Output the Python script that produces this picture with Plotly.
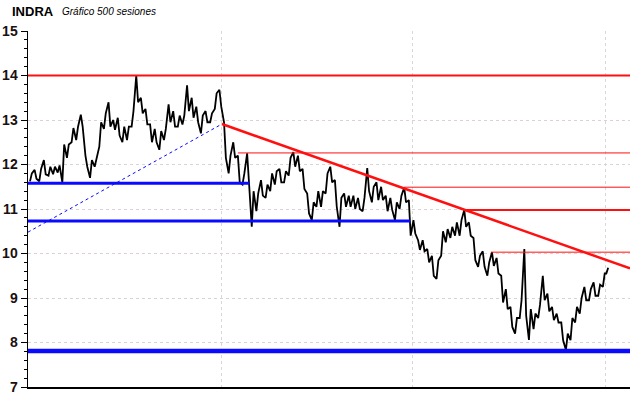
import plotly.graph_objects as go

# ---------------- data ----------------
sessions = list(range(0, 500, 4)) + [499]

high = [11.80, 11.88, 11.90, 12.10, 11.95, 11.95, 11.98, 12.45, 12.45, 12.82,
        12.85, 13.12, 12.20, 12.10, 12.15, 12.95, 13.15, 13.40, 13.00, 13.05,
        12.85, 12.85, 13.20, 14.00, 13.50, 13.25, 12.90, 12.80, 12.75, 12.80,
        13.35, 13.20, 13.10, 13.10, 13.78, 13.50, 13.30, 13.10, 13.20, 13.15,
        13.60, 13.68, 12.95, 12.20, 12.50, 12.20, 11.80, 12.25, 11.40, 11.35,
        11.65, 11.55, 11.80, 11.85, 11.90, 11.85, 12.15, 12.28, 12.20, 11.90,
        11.35, 11.15, 11.40, 11.40, 11.80, 11.95, 11.65, 11.25, 11.35, 11.30,
        11.30, 11.25, 11.25, 11.92, 11.50, 11.60, 11.50, 11.30, 11.25, 11.15,
        11.30, 11.48, 11.20, 10.75, 10.30, 10.30, 10.10, 9.95, 9.85, 10.50,
        10.55, 10.60, 10.70, 10.75, 10.98, 10.70, 10.35, 9.95, 10.05, 9.80,
        10.03, 9.90, 9.50, 9.20, 8.80, 8.55, 8.95, 10.10, 8.75, 8.65,
        8.85, 9.50, 9.10, 8.80, 8.65, 8.45, 8.20, 8.55, 8.80, 9.00,
        9.25, 9.20, 9.35, 9.30, 9.55, 9.68]

low = [11.62, 11.68, 11.62, 11.78, 11.75, 11.78, 11.82, 11.60, 12.15, 12.50,
       12.55, 12.85, 11.95, 11.70, 11.95, 12.40, 12.80, 12.85, 12.78, 12.65,
       12.50, 12.55, 12.85, 13.40, 13.15, 12.90, 12.50, 12.50, 12.33, 12.55,
       12.95, 12.85, 12.85, 12.90, 13.20, 13.05, 12.95, 12.70, 12.95, 12.95,
       13.25, 13.30, 12.15, 11.80, 12.15, 11.60, 11.55, 11.60, 10.60, 10.95,
       11.30, 11.25, 11.40, 11.55, 11.60, 11.60, 11.75, 11.95, 11.85, 11.45,
       10.90, 10.75, 11.05, 11.05, 11.35, 11.60, 11.05, 10.60, 11.05, 11.05,
       11.00, 11.00, 10.95, 11.40, 11.15, 11.20, 11.20, 10.95, 10.98, 10.75,
       11.00, 11.15, 10.40, 10.45, 10.08, 10.05, 9.80, 9.50, 9.43, 9.95,
       10.25, 10.35, 10.40, 10.40, 10.60, 10.40, 9.85, 9.70, 9.70, 9.50,
       9.72, 9.55, 8.90, 8.75, 8.35, 8.20, 8.55, 8.60, 8.06, 8.30,
       8.55, 8.95, 8.70, 8.50, 8.45, 8.05, 7.83, 8.05, 8.45, 8.65,
       8.95, 8.95, 9.05, 9.05, 9.25, 9.55]

# y-axis tick labels
y_ticks = [7, 8, 9, 10, 11, 12, 13, 14, 15]
# session positions of vertical grid lines
x_grid = [165.5, 331.5, 498.5]

# horizontal levels: (value, start session or None for full width, width)
red_levels = [(14.00, None, 2), (12.26, 180, 1), (11.49, 324, 1), (10.98, 377, 2), (10.03, 399, 1)]
blue_levels = [(11.58, None, 190, 3), (10.73, None, 329, 3), (7.81, None, None, 4.5)]
# trend lines: (session0, value0, session1, value1)
blue_trend = (-1.73, 10.48, 166.2, 12.91)
red_trend = (166.2, 12.91, 519.5, 9.665)

X_RANGE = [-1.73, 519.5]

# ---------------- build price path ----------------
px, py = [], []
for k, s in enumerate(sessions):
    mid_here = (high[k] + low[k]) / 2
    if k + 1 < len(sessions):
        mid_next = (high[k + 1] + low[k + 1]) / 2
    else:
        mid_next = mid_here + 0.1
    if mid_next >= mid_here:
        px += [s, s + 1.6]
        py += [low[k], high[k]]
    else:
        px += [s, s + 1.6]
        py += [high[k], low[k]]

fig = go.Figure()
fig.add_trace(go.Scatter(x=px, y=py, mode="lines",
                         line=dict(color="black", width=1.8),
                         hoverinfo="skip", showlegend=False))

shapes = []
RED = "#ff1010"
BLUE = "#0a0aff"
for v, s0, w in red_levels:
    if s0 is None:
        shapes.append(dict(type="line", xref="paper", yref="y", x0=0, x1=1, y0=v, y1=v,
                           line=dict(color=RED, width=w)))
    else:
        shapes.append(dict(type="line", xref="x", yref="y", x0=s0, x1=X_RANGE[1], y0=v, y1=v,
                           line=dict(color=RED, width=w)))
for v, s0, s1, w in blue_levels:
    shapes.append(dict(type="line", xref="x", yref="y",
                       x0=X_RANGE[0] if s0 is None else s0,
                       x1=X_RANGE[1] if s1 is None else s1,
                       y0=v, y1=v, line=dict(color=BLUE, width=w)))
shapes.append(dict(type="line", xref="x", yref="y", x0=blue_trend[0], y0=blue_trend[1],
                   x1=blue_trend[2], y1=blue_trend[3],
                   line=dict(color=BLUE, width=1, dash="dot")))
shapes.append(dict(type="line", xref="x", yref="y", x0=red_trend[0], y0=red_trend[1],
                   x1=red_trend[2], y1=red_trend[3],
                   line=dict(color=RED, width=2.5)))

fig.update_layout(
    width=640, height=398,
    margin=dict(l=28, r=10, t=31, b=11),
    paper_bgcolor="white", plot_bgcolor="white",
    shapes=shapes,
    showlegend=False,
    hovermode=False,
    xaxis=dict(range=X_RANGE, tickvals=x_grid, showticklabels=False, ticks="",
               automargin=False,
               showgrid=True, gridcolor="#d8d8d8", griddash="dot", gridwidth=1,
               zeroline=False, showline=True, linecolor="black", linewidth=1.5),
    yaxis=dict(range=[7, 15], tickvals=y_ticks, ticks="outside", ticklen=6,
               automargin=False,
               tickcolor="black", tickwidth=1,
               tickfont=dict(family="Liberation Sans, Arial", size=14, color="#1a1010", weight="bold"),
               showgrid=True, gridcolor="#ddd2d2", griddash="dot", gridwidth=1,
               zeroline=False, showline=True, linecolor="black", linewidth=1.5,
               minor=dict(dtick=0.2, ticks="outside", ticklen=3, tickcolor="black", showgrid=False)),
    annotations=[
        dict(text="<b>INDRA</b>", xref="paper", yref="paper", x=-0.0299, y=1.056,
             xanchor="left", yanchor="middle", showarrow=False,
             font=dict(family="Liberation Sans, Arial", size=13, color="black")),
        dict(text="<i>Gráfico 500 sesiones</i>", xref="paper", yref="paper", x=0.053, y=1.056,
             xanchor="left", yanchor="middle", showarrow=False,
             font=dict(family="Liberation Sans, Arial", size=10, color="black")),
    ],
)

# remove the default 8px page margin so the figure sits at the window's corner
fig.write_html("out.html",
               config={"displayModeBar": False, "staticPlot": True},
               post_script="document.body.style.margin='0px';document.body.style.overflow='hidden';")
